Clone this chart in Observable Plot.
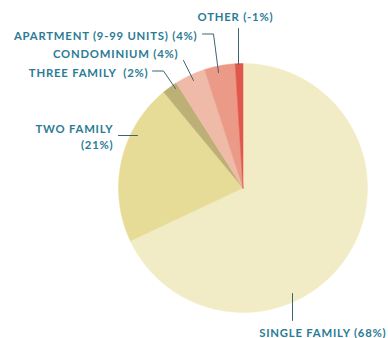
<!DOCTYPE html>
<html><head><meta charset="utf-8">
<script src="https://cdn.jsdelivr.net/npm/d3@7"></script>
<script src="https://cdn.jsdelivr.net/npm/@observablehq/plot@0.6"></script>
<style>
html,body{margin:0;padding:0;background:#fff;}
svg text{white-space:pre;}
</style>
</head><body>
<div id="chart"></div>
<script>
// Data
const categories = ["SINGLE FAMILY", "TWO FAMILY", "THREE FAMILY", "CONDOMINIUM", "APARTMENT (9-99 UNITS)", "OTHER"];
const shares = [68, 21, 2, 4, 4, 1];
const shareLabels = ["68%", "21%", "2%", "4%", "4%", "-1%"];
const colors = ["#f2ecc6", "#e6dc98", "#bcb077", "#f0baa8", "#ea9a86", "#e0574b"];

// Layout (pixel space)
const W = 388, H = 338;
const cx = 242.5, cy = 187.5, R = 124.5;
const labelLayout = [
  {text: "SINGLE FAMILY (68%)", x: 386, y: 331, anchor: "end", leader: [[292, 320], [292, 293]]},
  {text: "TWO FAMILY\n(21%)", x: 113, y: 135, anchor: "end", leader: [[118, 135], [137, 135]]},
  {text: "THREE FAMILY  (2%)", x: 148, y: 71, anchor: "end", leader: [[152, 70.5], [163, 70.5], [175, 88]]},
  {text: "CONDOMINIUM (4%)", x: 178, y: 52, anchor: "end", leader: [[183, 60], [193, 80]]},
  {text: "APARTMENT (9-99 UNITS) (4%)", x: 197, y: 34, anchor: "end", leader: [[202, 33.5], [213, 33.5], [218, 72]]},
  {text: "OTHER (-1%)", x: 235, y: 15, anchor: "middle", leader: [[238, 28], [238, 64]]}
];

// Slice geometry from the values
const pie = d3.pie().sort(null).value(d => d)(shares);
const slicePts = [];
pie.forEach((p, i) => {
  const key = categories[i];
  slicePts.push({key, x: 0, y: 0});
  const steps = Math.max(2, Math.ceil((p.endAngle - p.startAngle) / 0.005));
  for (let s = 0; s <= steps; s++) {
    const a = p.startAngle + (p.endAngle - p.startAngle) * s / steps;
    slicePts.push({key, x: Math.sin(a), y: Math.cos(a)});
  }
  slicePts.push({key, x: 0, y: 0});
});

const toX = px => (px - cx) / R;
const toY = py => (cy - py) / R;
const leaderPts = [];
labelLayout.forEach((l, i) => l.leader.forEach(([px, py]) => leaderPts.push({k: i, x: toX(px), y: toY(py)})));
const labels = labelLayout.map(l => ({...l, ux: toX(l.x), uy: toY(l.y)}));

const chart = Plot.plot({
  width: W, height: H,
  margin: 0,
  x: {domain: [-1, 1], range: [cx - R, cx + R], axis: null},
  y: {domain: [-1, 1], range: [cy + R, cy - R], axis: null},
  color: {domain: categories, range: colors},
  marks: [
    Plot.line(slicePts, {x: "x", y: "y", z: "key", fill: "key", stroke: "key", strokeWidth: 0.5, curve: "linear"}),
    Plot.line(leaderPts, {x: "x", y: "y", z: "k", stroke: "#3f6470", strokeWidth: 1}),
    ...["start", "middle", "end"].map(a => Plot.text(labels.filter(l => l.anchor === a), {
      x: "ux", y: "uy", text: "text", textAnchor: a, lineAnchor: "middle",
      fill: "#2b7b95", fontSize: 11.3, fontWeight: "bold", fontFamily: "Lato",
      lineHeight: 1.42
    }))
  ],
  style: {fontFamily: "Lato", letterSpacing: "0.8px", background: "#fff"}
});
document.getElementById("chart").appendChild(chart);
</script>
</body></html>
